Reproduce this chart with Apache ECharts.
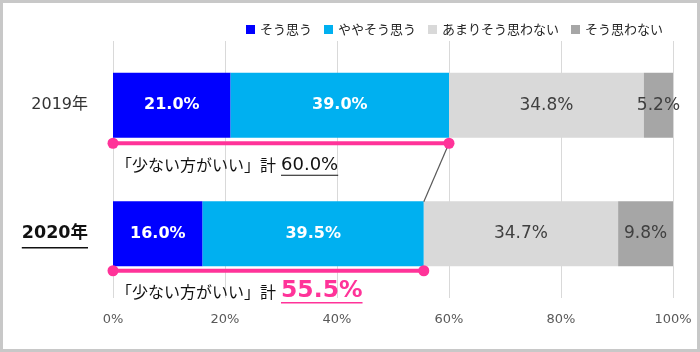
<!DOCTYPE html>
<html><head><meta charset="utf-8">
<script src="https://cdn.jsdelivr.net/npm/echarts@6/dist/echarts.min.js"></script>
<style>html,body{margin:0;padding:0;background:#fff}#c{width:700px;height:352px}</style>
</head><body><div id="c"></div>
<script>
const categories = ['2019年', '2020年'];
const seriesNames = ['そう思う', 'ややそう思う', 'あまりそう思わない', 'そう思わない'];
const agree = [21.0, 16.0];
const somewhatAgree = [39.0, 39.5];
const notMuch = [34.8, 34.7];
const disagree = [5.2, 9.8];
const xTicks = [0, 20, 40, 60, 80, 100];
const annotationLabel = '「少ない方がいい」計';

const colors = ['#0000ff', '#00b0f0', '#d9d9d9', '#a6a6a6'];
const FONT = '"Noto Sans CJK JP", "Noto Sans", sans-serif';
const NUMFONT = '"DejaVu Sans", "Noto Sans CJK JP", sans-serif';
const totals = agree.map((v, i) => +(v + somewhatAgree[i]).toFixed(1));

const ctx = document.createElement('canvas').getContext('2d');
function measure(text, font) {
  ctx.font = font;
  return ctx.measureText(text).width;
}

const chart = echarts.init(document.getElementById('c'), null, { renderer: 'canvas' });

function barSeries(name, data, idx, dark) {
  return {
    name: name, type: 'bar', stack: 'total', data: data, barWidth: 65,
    itemStyle: { color: colors[idx] },
    label: {
      show: true, position: 'inside',
      formatter: p => p.value.toFixed(1) + '%',
      color: dark ? '#ffffff' : '#404040',
      fontWeight: dark ? 'bold' : 'normal',
      fontSize: dark ? 16 : 17, fontFamily: NUMFONT
    },
    emphasis: { disabled: true }
  };
}

const pinkData = totals.map((t, i) => [t, i]);
const OFF = 38;

const option = {
  animation: false,
  grid: { left: 113, right: 27, top: 41, bottom: 54 },
  legend: {
    data: seriesNames, left: 241, top: 18, itemWidth: 9, itemHeight: 9, itemGap: 12,
    icon: 'rect', textStyle: { fontSize: 13, color: '#262626', fontFamily: FONT }
  },
  xAxis: {
    type: 'value', min: 0, max: 100, interval: 20,
    axisLine: { show: false }, axisTick: { show: false },
    splitLine: { lineStyle: { color: '#d9d9d9', width: 1 } },
    axisLabel: { formatter: v => xTicks.includes(v) ? v + '%' : '', color: '#595959', fontSize: 13, margin: 15, fontFamily: NUMFONT }
  },
  yAxis: {
    type: 'category', data: categories, inverse: true,
    axisLine: { show: false }, axisTick: { show: false },
    axisLabel: {
      margin: 25, fontFamily: NUMFONT,
      formatter: (v, i) => i === 1 ? '{b|' + v + '}' : '{n|' + v + '}',
      rich: {
        n: { fontSize: 16, color: '#333333', fontFamily: NUMFONT },
        b: { fontSize: 17.5, fontWeight: 'bold', color: '#111111', fontFamily: NUMFONT }
      }
    }
  },
  series: [
    barSeries(seriesNames[0], agree, 0, true),
    barSeries(seriesNames[1], somewhatAgree, 1, true),
    barSeries(seriesNames[2], notMuch, 2, false),
    barSeries(seriesNames[3], disagree, 3, false),
    {
      type: 'custom', name: 'pink', silent: true, z: 5,
      data: pinkData,
      renderItem: function (params, api) {
        const cat = api.value(1);
        const s = api.coord([0, cat]);
        const e = api.coord([api.value(0), cat]);
        const y = s[1] + (cat === 0 ? OFF : 37);
        return {
          type: 'group', children: [
            { type: 'line', shape: { x1: s[0], y1: y, x2: e[0], y2: y }, style: { stroke: '#ff3399', lineWidth: 4 } },
            { type: 'circle', shape: { cx: s[0], cy: y, r: 5.5 }, style: { fill: '#ff3399' } },
            { type: 'circle', shape: { cx: e[0], cy: y, r: 5.5 }, style: { fill: '#ff3399' } }
          ]
        };
      }
    },
    {
      type: 'custom', name: 'connector', silent: true, z: 4,
      data: [[totals[0], 0, totals[1], 1]],
      renderItem: function (params, api) {
        const a = api.coord([api.value(0), api.value(1)]);
        const b = api.coord([api.value(2), api.value(3)]);
        return { type: 'line', shape: { x1: a[0], y1: a[1] + OFF, x2: b[0], y2: b[1] - 32 }, style: { stroke: '#595959', lineWidth: 1.2 } };
      }
    }
  ]
};
chart.setOption(option);

// annotations
const yrFont = 'bold 17.5px ' + NUMFONT;
const yr2020W = measure(categories[1], yrFont);
const y2020 = chart.convertToPixel({ yAxisIndex: 0 }, 1);
const y2019 = chart.convertToPixel({ yAxisIndex: 0 }, 0);
const labelRight = 113 - 25;
const lblFont = '16px ' + FONT;
const lblW = measure(annotationLabel, lblFont);
const numX = 116 + lblW + 5;
const n1 = totals[0].toFixed(1) + '%';
const n2 = totals[1].toFixed(1) + '%';
const n1Font = '18px ' + NUMFONT;
const n2Font = 'bold 23.5px ' + NUMFONT;
const n1W = measure(n1, n1Font);
const n2W = measure(n2, n2Font);
const t1y = y2019 + 60;
const t2y = y2020 + 58;

chart.setOption({
  graphic: [
    { type: 'rect', silent: true, shape: { x: 1.5, y: 1.5, width: 697, height: 349 }, style: { fill: 'none', stroke: '#c8c8c8', lineWidth: 3 } },
    { type: 'line', silent: true, shape: { x1: labelRight - yr2020W, y1: y2020 + 14, x2: labelRight, y2: y2020 + 14 }, style: { stroke: '#111111', lineWidth: 1.5 } },
    { type: 'text', silent: true, x: 116, y: t1y, style: { text: annotationLabel, font: lblFont, fill: '#111111', verticalAlign: 'middle' } },
    { type: 'text', silent: true, x: numX, y: t1y, style: { text: n1, font: n1Font, fill: '#111111', verticalAlign: 'middle' } },
    { type: 'line', silent: true, shape: { x1: numX, y1: t1y + 10, x2: numX + n1W, y2: t1y + 10 }, style: { stroke: '#111111', lineWidth: 1.2 } },
    { type: 'text', silent: true, x: 116, y: t2y, style: { text: annotationLabel, font: lblFont, fill: '#111111', verticalAlign: 'middle' } },
    { type: 'text', silent: true, x: numX, y: t2y - 1, style: { text: n2, font: n2Font, fill: '#ff3399', verticalAlign: 'middle' } },
    { type: 'line', silent: true, shape: { x1: numX, y1: t2y + 11, x2: numX + n2W, y2: t2y + 11 }, style: { stroke: '#ff3399', lineWidth: 1.5 } }
  ]
});
</script></body></html>
